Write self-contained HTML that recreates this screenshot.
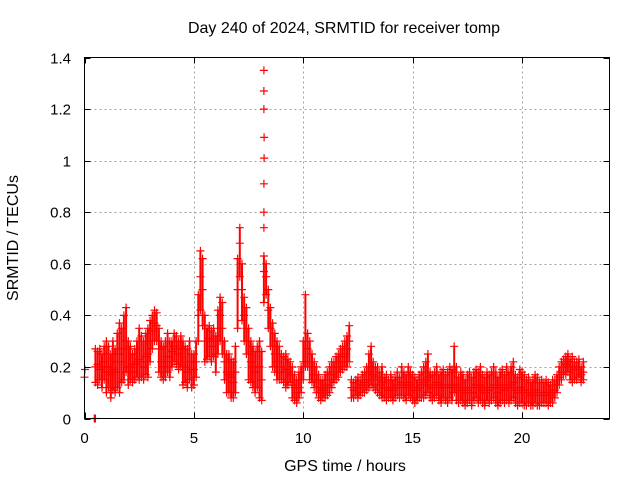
<!DOCTYPE html>
<html><head><meta charset="utf-8"><style>
html,body{margin:0;padding:0;background:#fff;}
svg{display:block;font-family:"Liberation Sans",sans-serif;}
</style></head><body>
<svg id="chart" width="640" height="480" viewBox="0 0 640 480" xmlns="http://www.w3.org/2000/svg">
<rect width="640" height="480" fill="#fff"/>
<text x="344" y="33" font-size="16" text-anchor="middle" fill="#000">Day 240 of 2024, SRMTID for receiver tomp</text>
<text x="345" y="471" font-size="16" text-anchor="middle" fill="#000">GPS time / hours</text>
<text x="18" y="238" font-size="16" text-anchor="middle" fill="#000" transform="rotate(-90 18 238)">SRMTID / TECUs</text>
<g id="grid"></g>
<g id="marks"></g>
<rect x="84.5" y="57.5" width="525" height="361" fill="none" stroke="#000" stroke-width="1"/>
<g id="ticks"></g>
</svg>
<script>
const xTicks = [0, 5, 10, 15, 20];
const yTicks = [0, 0.2, 0.4, 0.6, 0.8, 1.0, 1.2, 1.4];
const yTickLabels = ["0", "0.2", "0.4", "0.6", "0.8", "1", "1.2", "1.4"];
const times = [0.5,0.6,0.7,0.8,0.9,1.0,1.1,1.2,1.3,1.4,1.5,1.6,1.7,1.8,1.9,2.0,2.1,2.2,2.3,2.4,2.5,2.6,2.7,2.8,2.9,3.0,3.1,3.2,3.3,3.4,3.5,3.6,3.7,3.8,3.9,4.0,4.1,4.2,4.3,4.4,4.5,4.6,4.7,4.8,4.9,5.0,5.1,5.2,5.3,5.4,5.5,5.6,5.7,5.8,5.9,6.0,6.1,6.2,6.3,6.4,6.5,6.6,6.7,6.8,6.9,7.0,7.1,7.2,7.3,7.4,7.5,7.6,7.7,7.8,7.9,8.0,8.1,8.2,8.3,8.4,8.5,8.6,8.7,8.8,8.9,9.0,9.1,9.2,9.3,9.4,9.5,9.6,9.7,9.8,9.9,10.0,10.1,10.2,10.3,10.4,10.5,10.6,10.7,10.8,10.9,11.0,11.1,11.2,11.3,11.4,11.5,11.6,11.7,11.8,11.9,12.0,12.1,12.2,12.3,12.4,12.5,12.6,12.7,12.8,12.9,13.0,13.1,13.2,13.3,13.4,13.5,13.6,13.7,13.8,13.9,14.0,14.1,14.2,14.3,14.4,14.5,14.6,14.7,14.8,14.9,15.0,15.1,15.2,15.3,15.4,15.5,15.6,15.7,15.8,15.9,16.0,16.1,16.2,16.3,16.4,16.5,16.6,16.7,16.8,16.9,17.0,17.1,17.2,17.3,17.4,17.5,17.6,17.7,17.8,17.9,18.0,18.1,18.2,18.3,18.4,18.5,18.6,18.7,18.8,18.9,19.0,19.1,19.2,19.3,19.4,19.5,19.6,19.7,19.8,19.9,20.0,20.1,20.2,20.3,20.4,20.5,20.6,20.7,20.8,20.9,21.0,21.1,21.2,21.3,21.4,21.5,21.6,21.7,21.8,21.9,22.0,22.1,22.2,22.3,22.4,22.5,22.6,22.7,22.8];
const highVals = [.27,.26,.27,.25,.28, .3,.28,.25,.3,.27, .33,.37,.35,.4,.43, .3,.28,.25,.27,.3, .35,.32,.3,.33,.35, .38,.4,.42,.41,.35, .3,.28,.3,.33,.3, .3,.33,.32,.3,.32, .3,.28,.27,.3,.25, .25,.3,.48,.65,.62, .4,.35,.36,.34,.35, .32,.42,.47,.45,.3, .25,.25,.23,.22,.28, .62,.74,.6,.47,.43, .35,.3,.28,.26,.28, .3,.26,.63,.6,.5, .43,.37,.33,.3,.28, .25,.24,.25,.23,.22, .2,.17,.15,.18,.2, .3,.48,.33,.3,.25, .22,.2,.17,.15,.15, .17,.18,.2,.22,.22, .24,.25,.27,.28,.3, .32,.36,.15,.14,.15, .16,.15,.17,.18,.2, .25,.28,.22,.2,.2, .18,.2,.16,.17,.15, .17,.15,.16,.18,.16, .2,.18,.17,.2,.18, .17,.16,.15,.17,.18, .2,.22,.25,.18,.17, .18,.2,.17,.18,.19, .17,.18,.2,.19,.28, .2,.16,.18,.17,.15, .17,.18,.16,.18,.19, .18,.2,.17,.16,.18, .17,.18,.2,.18,.16, .18,.19,.17,.2,.18, .2,.22,.17,.16,.19, .18,.17,.15,.16,.14, .15,.17,.16,.14,.15, .14,.15,.14,.13,.15, .15,.17,.2,.22,.23, .24,.25,.23,.24,.22, .22,.23,.2,.22];
const midVals = [.2,.21,.19,.2,.22, .18,.2,.17,.19,.18, .22,.25,.22,.27,.3, .2,.2,.18,.21,.22, .23,.22,.2,.24,.25, .3,.34,.37,.36,.27, .22,.2,.22,.24,.22, .26,.28,.27,.25,.27, .2,.2,.18,.22,.19, .19,.22,.4,.55,.5, .3,.3,.31,.28,.3, .25,.35,.4,.35,.22, .18,.17,.16,.14,.18, .5,.68,.5,.4,.35, .25,.22,.2,.18,.2, .2,.15,.57,.55,.42, .35,.28,.25,.22,.2, .2,.18,.19,.18,.17, .13,.12,.1,.12,.15, .22,.3,.27,.22,.2, .17,.15,.12,.1,.11, .12,.13,.15,.17,.18, .2,.2,.22,.24,.25, .27,.3,.12,.11,.12, .12,.12,.13,.14,.15, .18,.2,.17,.16,.15, .13,.14,.12,.12,.11, .12,.11,.12,.13,.12, .14,.13,.12,.14,.13, .12,.11,.11,.12,.13, .14,.15,.16,.13,.12, .13,.14,.12,.12,.13, .12,.12,.13,.12,.18, .13,.11,.12,.11,.1, .11,.12,.1,.12,.13, .12,.13,.11,.1,.12, .11,.12,.13,.12,.1, .12,.13,.11,.13,.12, .13,.14,.11,.1,.12, .11,.11,.1,.1,.09, .1,.11,.1,.09,.1, .1,.1,.09,.09,.1, .11,.13,.16,.18,.2, .21,.22,.2,.2,.19, .19,.2,.17,.18];
const lowVals = [.14,.13,.15,.12,.15, .1,.12,.08,.11,.1, .12,.1,.14,.15,.18, .13,.15,.14,.15,.16, .15,.16,.15,.17,.16, .22,.27,.3,.3,.18, .16,.15,.16,.18,.16, .2,.22,.21,.19,.2, .13,.14,.12,.15,.12, .13,.16,.3,.42,.36, .22,.23,.24,.22,.24, .18,.25,.3,.25,.15, .1,.1,.08,.08,.1, .35,.55,.38,.3,.25, .15,.14,.12,.1,.12, .08,.07,.45,.48,.35, .28,.2,.18,.15,.15, .15,.14,.12,.13,.14, .08,.07,.06,.08,.1, .15,.2,.2,.15,.14, .12,.1,.08,.07,.08, .08,.09,.1,.12,.14, .15,.16,.18,.19,.2, .2,.22,.08,.08,.09, .08,.09,.1,.1,.11, .12,.13,.12,.11,.1, .09,.08,.08,.07,.08, .08,.07,.08,.09,.08, .09,.08,.07,.09,.08, .07,.06,.07,.08,.08, .08,.09,.1,.08,.07, .08,.09,.07,.06,.08, .07,.06,.08,.07,.1, .07,.06,.07,.06,.05, .06,.07,.05,.07,.08, .06,.07,.06,.05,.07, .06,.07,.08,.06,.05, .06,.07,.06,.07,.06, .07,.08,.06,.05,.06, .06,.05,.05,.06,.05, .05,.06,.05,.05,.06, .06,.06,.05,.06,.06, .08,.1,.13,.15,.17, .17,.18,.15,.14,.15, .15,.16,.14,.15];
const extraTimes = [0.0, 0.02, 0.45, 0.5, 8.2, 8.2, 8.2, 8.21, 8.21, 8.2, 8.2, 8.2];
const extraVals = [0.16, 0.19, 0.0, 0.0, 0.74, 0.8, 0.91, 1.01, 1.09, 1.2, 1.27, 1.35];

const X0 = 84.5, X1 = 609.5, Y0 = 418.5, Y1 = 57.5;
const xMax = 24, yMax = 1.4;
const sx = v => X0 + (v / xMax) * (X1 - X0);
const sy = v => Y0 - (v / yMax) * (Y0 - Y1);
const NS = "http://www.w3.org/2000/svg";
const grid = document.getElementById('grid');
const ticks = document.getElementById('ticks');
const marks = document.getElementById('marks');
function mk(tag, attrs, parent) {
  const e = document.createElementNS(NS, tag);
  for (const k in attrs) e.setAttribute(k, attrs[k]);
  parent.appendChild(e);
  return e;
}
xTicks.forEach((t, i) => {
  const x = Math.round(sx(t)) + 0.5;
  if (i > 0) {
    const g = mk('line', {x1: x, y1: Y0, x2: x, y2: Y1, stroke: '#a0a0a0', 'stroke-dasharray': '2,3'}, grid);
    
    
  }
  const a = mk('line', {x1: x, y1: Y0, x2: x, y2: Y0 - 6, stroke: '#000'}, ticks);
  
  
  const b = mk('line', {x1: x, y1: Y1, x2: x, y2: Y1 + 6, stroke: '#000'}, ticks);
  
  
  const l = mk('text', {x: sx(t), y: 443, 'font-size': 15, 'text-anchor': 'middle', fill: '#000'}, ticks);
  l.textContent = String(t);
  
  
});
yTicks.forEach((t, i) => {
  const y = Math.round(sy(t)) + 0.5;
  if (i > 0 && i < yTicks.length - 1) {
    const g = mk('line', {x1: X0, y1: y, x2: X1, y2: y, stroke: '#a0a0a0', 'stroke-dasharray': '2,3'}, grid);
    
    
  }
  const a = mk('line', {x1: X0, y1: y, x2: X0 + 6, y2: y, stroke: '#000'}, ticks);
  
  
  const b = mk('line', {x1: X1, y1: y, x2: X1 - 6, y2: y, stroke: '#000'}, ticks);
  
  
  const l = mk('text', {x: 71, y: y + 5, 'font-size': 15, 'text-anchor': 'end', fill: '#000'}, ticks);
  l.textContent = yTickLabels[i];
  
  
});
let d = '';
let r = '';
function plus(t, v) {
  const x = sx(t), y = sy(v);
  d += `M${(x - 4).toFixed(1)} ${y.toFixed(1)}h8M${x.toFixed(1)} ${(y - 4).toFixed(1)}v8`;
}
times.forEach((t, i) => {
  plus(t, highVals[i]);
  plus(t, midVals[i]);
  plus(t, lowVals[i]);
  r += `M${sx(t).toFixed(1)} ${sy(highVals[i]).toFixed(1)}V${sy(lowVals[i]).toFixed(1)}`;
});
extraTimes.forEach((t, i) => plus(t, extraVals[i]));
const rb = mk('path', {d: r, stroke: '#ff0000', 'stroke-width': 2, fill: 'none'}, marks);


const p = mk('path', {d: d, stroke: '#ff0000', 'stroke-width': 1.2, fill: 'none'}, marks);


</script>
</body></html>
